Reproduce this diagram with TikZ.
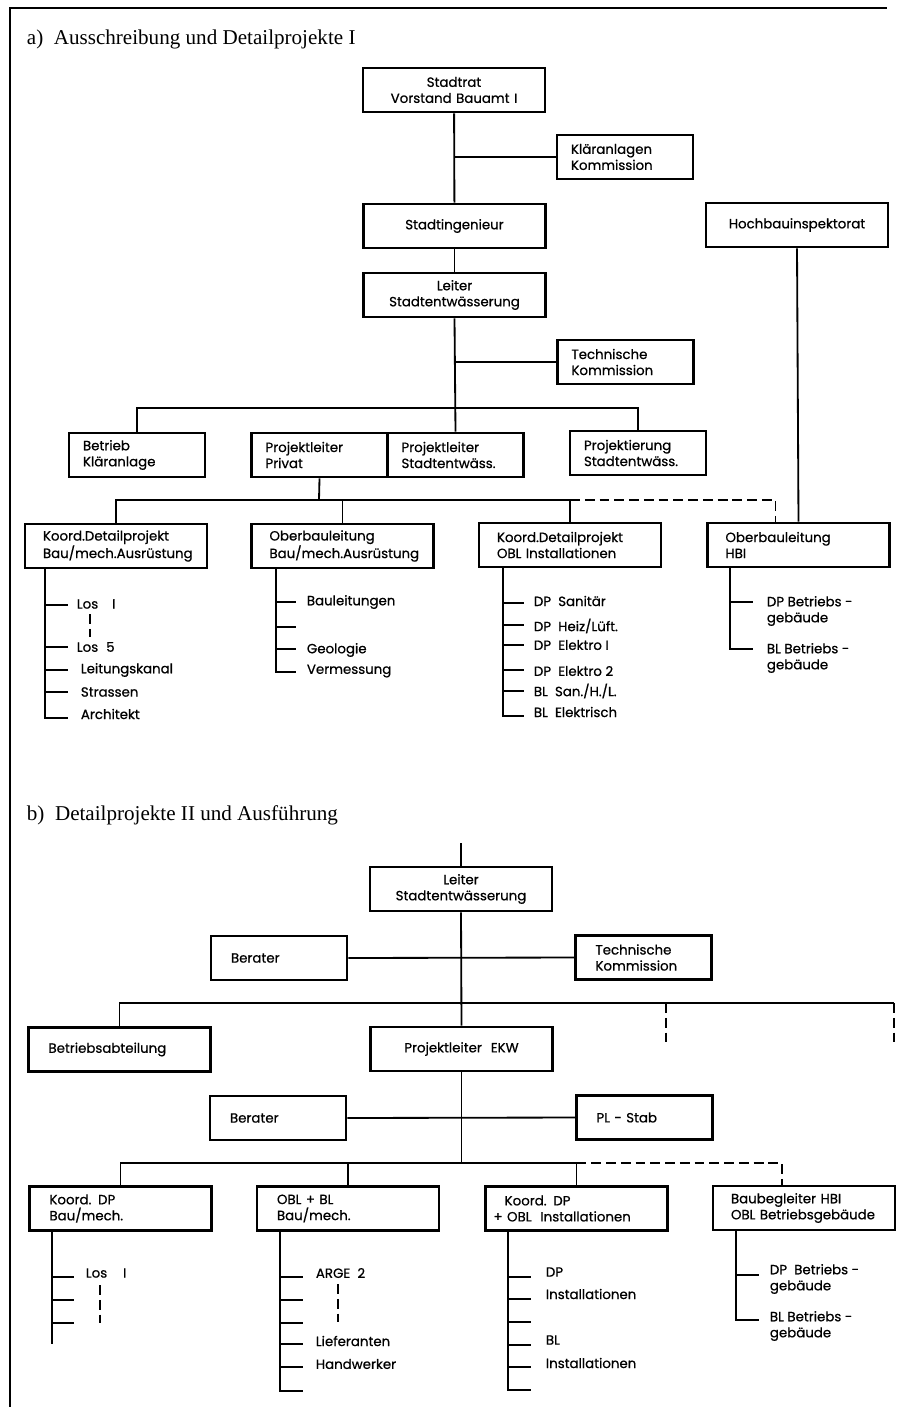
\documentclass[tikz,border=0pt]{standalone}
\usepackage{fontspec}
\setmainfont{Liberation Serif}
\newfontfamily\boxfont{Poppins}[FakeBold=0.7]
\usetikzlibrary{calc}
\tikzset{
  box/.style={draw, line width=2pt, minimum height=1.1cm, inner ysep=0pt, align=left,
    font=\boxfont\fontsize{9.5}{11.4}\selectfont},
  wbox/.style={box, inner xsep=0.45cm, text width=3.65cm},
  nbox/.style={box, inner xsep=0.35cm, text width=2.7cm},
  wboxb/.style={box, inner xsep=0.5cm, text width=3.55cm},
  nboxb/.style={box, inner xsep=0.5cm, text width=2.4cm},
  mid/.style={align=center},
  item/.style={anchor=west, inner sep=0pt, align=left, font=\boxfont\fontsize{9.5}{11.4}\selectfont},
  head/.style={anchor=west, inner sep=0pt, font=\fontsize{15}{17}\selectfont},
  dashline/.style={dash pattern=on 7pt off 3.5pt}
}
\begin{document}
\begin{tikzpicture}[x=0.025cm, y=-0.025cm, line width=1.3pt]
\useasboundingbox (0,0) rectangle (897,1407);
\draw[line width=1.2pt] (10,1407) -- (10,8) -- (887,8);

% a) Ausschreibung
\node(heada) [head] at (26,39) {a)\ \ Ausschreibung und Detailprojekte I};
\node(stadtrat) [wbox,mid] at (454,90) {Stadtrat\\Vorstand Bauamt I};
\node(klaer) [nbox] at (625,157) {Kläranlagen\\Kommission};
\node(stading) [wbox,mid] at (454.5,226) {Stadtingenieur};
\node(hochbau) [wbox,mid] at (797,225) {Hochbauinspektorat};
\node(leiter) [wbox,mid] at (454.5,295) {Leiter\\Stadtentwässerung};
\node(techkom) [nbox] at (625.5,362) {Technische\\Kommission};
\node(betrieb) [nbox] at (137,455) {Betrieb\\Kläranlage};
\node(plprivat) [nbox] at (319.5,455) {Projektleiter\\Privat};
\node(plstadt) [nbox] at (455.5,455) {Projektleiter\\Stadtentwäss.};
\node(projekt) [nbox] at (638,453) {Projektierung\\Stadtentwäss.};
\node(koordbau) [wbox] at (116,546) {Koord.Detailprojekt\\Bau/mech.Ausrüstung};
\node(oblbau) [wbox] at (342.5,546) {Oberbauleitung\\Bau/mech.Ausrüstung};
\node(koordinst) [wbox] at (570,545) {Koord.Detailprojekt\\OBL Installationen};
\node(oblhbi) [wbox] at (798.5,545) {Oberbauleitung\\HBI};

\draw (stadtrat) -- (stading);
\draw (stading) -- (leiter);
\draw (leiter.south) -- (plstadt.north);
\draw (stadtrat.south |- klaer.west) -- (klaer.west);
\draw (leiter.south |- techkom.west) -- (techkom.west);
\coordinate (bara) at (455,408);
\draw (betrieb.north) |- (bara) -| (projekt.north);
\coordinate (barb) at (319,500);
\draw (plprivat.south) -- (barb);
\draw (koordbau.north) |- (barb) -| (koordinst.north);
\draw (oblbau.north) -- (oblbau.north |- barb);
\draw[dashline] (koordinst.north |- barb) -| ($(oblhbi.north)+(-23,0)$);
\draw (hochbau.south) -- (oblhbi.north);

% Listen a)
\draw (koordbau.south -| 45,0) -- (45,718) -- (68,718);
\foreach \y in {605,647,670,692} \draw (45,\y) -- (68,\y);
\draw[dashline] (90,614) -- (90,637);
\node(los1) [item] at (76,604) {Los\hspace{0.35cm}I};
\node(los5) [item] at (76,647) {Los\hspace{0.2cm}5};
\node(kanal) [item] at (80,670) {Leitungskanal};
\node(strassen) [item] at (80,692) {Strassen};
\node(archi) [item] at (80,714) {Architekt};

\draw (oblbau.south -| 276,0) -- (276,672) -- (296,672);
\foreach \y in {602,627,649} \draw (276,\y) -- (296,\y);
\node(bauleit) [item] at (306,602) {Bauleitungen};
\node(geo) [item] at (306,650) {Geologie};
\node(verm) [item] at (306,671) {Vermessung};

\draw (koordinst.south -| 503,0) -- (503,716) -- (524,716);
\foreach \y in {603,625,645,670,691} \draw (503,\y) -- (524,\y);
\node(sanitaer) [item] at (533,601) {DP\ \ Sanitär};
\node(heiz) [item] at (533,626) {DP\ \ Heiz/Lüft.};
\node(elek1) [item] at (533,645) {DP\ \ Elektro I};
\node(elek2) [item] at (533,671) {DP\ \ Elektro 2};
\node(blsan) [item] at (533,691) {BL\ \ San./H./L.};
\node(blelek) [item] at (533,712) {BL\ \ Elektrisch};

\draw (oblhbi.south -| 730,0) -- (730,649) -- (753,649);
\draw (730,602) -- (753,602);
\node(dpbetr) [item] at (766,611) {DP Betriebs -\\gebäude};
\node(blbetr) [item] at (766,658) {BL Betriebs -\\gebäude};

% b) Detailprojekte II
\node(headb) [head] at (26,815) {b)\ \ Detailprojekte II und Ausführung};
\coordinate (topb) at (461,843);
\node(leiterb) [wboxb,mid] at (461,889) {Leiter\\Stadtentwässerung};
\node(beratera) [nboxb] at (279,958) {Berater};
\node(techkomb) [nboxb] at (643.5,957.5) {Technische\\Kommission};
\node(betriebsab) [wboxb] at (119.5,1049.5) {Betriebsabteilung};
\node(pleckw) [wboxb,mid] at (461.5,1049) {Projektleiter\ \ EKW};
\node(beraterb) [nboxb] at (278,1118) {Berater};
\node(plstab) [nboxb] at (644.5,1117.5) {PL - Stab};
\node(koorddp) [wboxb] at (120.5,1208.5) {Koord. DP\\Bau/mech.};
\node(oblbl) [wboxb] at (348,1208.5) {OBL + BL\\Bau/mech.};
\node(koorddpi) [box, inner xsep=0.2cm, text width=4.15cm] at (576.5,1208.5) {\hspace{0.28cm}Koord. DP\\+ OBL\ \ Installationen};
\node(baubeg) [box, inner xsep=0.45cm, text width=3.65cm] at (804,1208) {Baubegleiter HBI\\OBL\ Betriebsgebäude};

\draw (topb) -- (leiterb.north);
\draw (leiterb.south) -- (pleckw.north);
\draw (beratera.east) -- (techkomb.west);
\coordinate (barc) at (894,1003);
\draw (betriebsab.north) |- (barc);
\draw[dashline] (barc) -- ++(0,40);
\draw[dashline] (666,1003) -- (666,1043);
\draw (beraterb.east) -- (plstab.west);
\coordinate (bard) at (461.5,1163);
\draw (pleckw.south) -- (bard);
\draw (koorddp.north) |- (bard) -| (koorddpi.north);
\draw (oblbl.north) -- (oblbl.north |- bard);
\draw[dashline] (koorddpi.north |- bard) -| ($(baubeg.north)+(-22,0)$);

% Listen b)
\draw (koorddp.south -| 52,0) -- (52,1344);
\foreach \y in {1277,1300,1323} \draw (52,\y) -- (74,\y);
\draw[dashline] (100,1285) -- (100,1323);
\node(losb) [item] at (85,1273) {Los\hspace{0.4cm}I};

\draw (oblbl.south -| 280,0) -- (280,1391) -- (303,1391);
\foreach \y in {1277,1300,1323,1344,1367} \draw (280,\y) -- (303,\y);
\draw[dashline] (338,1284) -- (338,1322);
\node(arge) [item] at (315,1273) {ARGE\ \ 2};
\node(liefer) [item] at (315,1341) {Lieferanten};
\node(handw) [item] at (315,1364) {Handwerker};

\draw (koorddpi.south -| 508,0) -- (508,1390) -- (531,1390);
\foreach \y in {1277,1299,1322,1345,1367} \draw (508,\y) -- (531,\y);
\node(dpb) [item] at (545,1272) {DP};
\node(instb) [item] at (545,1294) {Installationen};
\node(blb) [item] at (545,1340) {BL};
\node(instc) [item] at (545,1363) {Installationen};

\draw (baubeg.south -| 736,0) -- (736,1320) -- (759,1320);
\draw (736,1275) -- (759,1275);
\node(dpbetrb) [item] at (769,1279) {DP\ \ Betriebs -\\gebäude};
\node(blbetrb) [item] at (769,1326) {BL Betriebs -\\gebäude};
\end{tikzpicture}
\end{document}
